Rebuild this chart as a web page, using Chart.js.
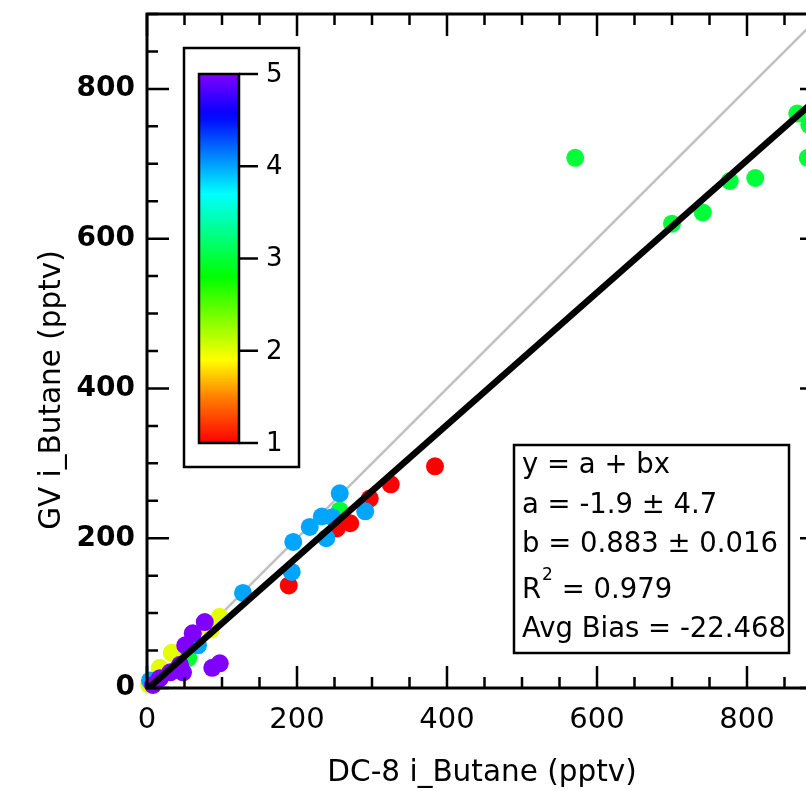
<!DOCTYPE html>
<html><head><meta charset="utf-8">
<script src="https://cdn.jsdelivr.net/npm/chart.js@4.4.0/dist/chart.umd.min.js"></script>
<style>
html,body{margin:0;padding:0;background:#fff;overflow:hidden;}
#wrap{width:806px;height:791px;overflow:hidden;position:relative;background:#fff;}
canvas{display:block;}
</style></head><body>
<div id="wrap"><canvas id="c" width="840" height="791"></canvas></div>
<script>
// ---------- data ----------
const xTitle = 'DC-8 i_Butane (pptv)';
const yTitle = 'GV i_Butane (pptv)';
const axisMin = 0;
const axisMax = 900;
const tickLabels = [0, 200, 400, 600, 800];
const minorStep = 50;

// DC-8 (x) values, GV (y) values, colour-scale value for each point
const dc8 = [189,253,271,297,325,384,
             571,700,741,777,811,867,883,881,257,55,
             97,85,33,17,3,
             128,193,195,217,233,247,257,239,291,68,4,
             77,61,51,44,48,31,17,8,87,97];
const gv  = [137,213,220,253,272,296,
             708,620,635,677,681,767,752,708,237,40,
             95,78,47,27,4,
             127,155,195,215,229,228,260,200,236,57,10,
             88,73,57,31,21,21,13,4,27,33];
const colorValue = [1,1,1,1,1,1,
             3,3,3,3,3,3,3,3,3,3,
             2,2,2,2,2,
             4,4,4,4,4,4,4,4,4,4,4,
             5,5,5,5,5,5,5,5,5,5];

const fitA = -1.9;
const fitB = 0.883;
const statsLines = ['y = a + bx', 'a = -1.9 \u00B1 4.7', 'b = 0.883 \u00B1 0.016', 'R2 = 0.979', 'Avg Bias = -22.468'];
const colorbarTicks = [1, 2, 3, 4, 5];

// ---------- colour scale ----------
const colorStops = [[1,[255,0,0]],[1.5,[255,128,0]],[1.9,[255,255,0]],[2.8,[0,255,0]],[3.7,[0,255,255]],[4.55,[0,0,255]],[5,[128,0,255]]];
function colorFor(v){
  if (v <= colorStops[0][0]) return 'rgb(' + colorStops[0][1].join(',') + ')';
  for (let i = 1; i < colorStops.length; i++){
    const [v1,c1] = colorStops[i];
    const [v0,c0] = colorStops[i-1];
    if (v <= v1){
      const t = (v - v0) / (v1 - v0);
      const c = c0.map((a,k)=>Math.round(a + (c1[k]-a)*t));
      return 'rgb(' + c.join(',') + ')';
    }
  }
  return 'rgb(' + colorStops[colorStops.length-1][1].join(',') + ')';
}

const points = dc8.map((x,i)=>({x:x, y:gv[i]}));
const xStart = Math.min(...dc8);
const fitLine = [{x:xStart, y:fitA + fitB*xStart}, {x:axisMax, y:fitA + fitB*axisMax}];
const oneToOne = [{x:axisMin, y:axisMin}, {x:axisMax, y:axisMax}];

const FONT = '"DejaVu Sans", sans-serif';

const decor = {
  id: 'decor',
  afterDraw(chart){
    const ctx = chart.ctx;
    const xs = chart.scales.x, ys = chart.scales.y;
    const L = xs.getPixelForValue(axisMin), R = xs.getPixelForValue(axisMax);
    const B = ys.getPixelForValue(axisMin), T = ys.getPixelForValue(axisMax);
    ctx.save();
    ctx.strokeStyle = '#000';
    ctx.lineWidth = 3;
    ctx.lineCap = 'butt';
    ctx.beginPath();
    ctx.rect(L, T, R-L, B-T);
    ctx.stroke();
    ctx.lineWidth = 2.5;
    for (let v = axisMin; v <= axisMax; v += minorStep){
      const major = v % 200 === 0;
      const len = major ? 22 : 11;
      const px = xs.getPixelForValue(v);
      const py = ys.getPixelForValue(v);
      ctx.beginPath();
      ctx.moveTo(px, B); ctx.lineTo(px, B-len);
      ctx.moveTo(px, T); ctx.lineTo(px, T+len);
      ctx.moveTo(L, py); ctx.lineTo(L+len, py);
      ctx.moveTo(R, py); ctx.lineTo(R-len, py);
      ctx.stroke();
    }
    // axis titles
    ctx.fillStyle = '#000';
    ctx.font = '29.5px ' + FONT;
    ctx.textAlign = 'center';
    ctx.textBaseline = 'middle';
    ctx.fillText(xTitle, 482, 773);
    ctx.save();
    ctx.translate(52, 390);
    ctx.rotate(-Math.PI/2);
    ctx.fillText(yTitle, 0, 0);
    ctx.restore();

    // colour bar legend
    ctx.lineWidth = 2.5;
    ctx.strokeStyle = '#000';
    ctx.fillStyle = '#fff';
    ctx.fillRect(184, 48, 115, 419);
    ctx.strokeRect(184, 48, 115, 419);
    const cbTop = 74, cbBot = 443, cbL = 199, cbR = 239;
    const vmin = colorbarTicks[0], vmax = colorbarTicks[colorbarTicks.length-1];
    const g = ctx.createLinearGradient(0, cbBot, 0, cbTop);
    for (let i = 0; i <= 40; i++){
      const v = vmin + (vmax - vmin) * i / 40;
      g.addColorStop(i/40, colorFor(v));
    }
    ctx.fillStyle = g;
    ctx.fillRect(cbL, cbTop, cbR-cbL, cbBot-cbTop);
    ctx.strokeRect(cbL, cbTop, cbR-cbL, cbBot-cbTop);
    ctx.fillStyle = '#000';
    ctx.font = '26px ' + FONT;
    ctx.textAlign = 'left';
    ctx.textBaseline = 'middle';
    colorbarTicks.forEach(v=>{
      const y = cbBot - (v - vmin) / (vmax - vmin) * (cbBot - cbTop);
      ctx.beginPath(); ctx.moveTo(cbR, y); ctx.lineTo(cbR+19, y); ctx.stroke();
      ctx.fillText(String(v), cbR+27, y+1);
    });

    // stats box
    ctx.fillStyle = '#fff';
    ctx.fillRect(514, 445, 275, 208);
    ctx.strokeRect(514, 445, 275, 208);
    ctx.fillStyle = '#000';
    ctx.textBaseline = 'alphabetic';
    const SF = '27.5px ' + FONT;
    ctx.font = SF;
    const baselines = [473, 513, 552, 598, 637];
    statsLines.forEach((s,i)=>{
      const x0 = 522;
      if (s.startsWith('R2')){
        ctx.font = SF;
        ctx.fillText('R', x0, baselines[i]);
        const w = ctx.measureText('R').width;
        ctx.font = '17px ' + FONT;
        ctx.fillText('2', x0 + w + 1, baselines[i] - 18);
        const w2 = ctx.measureText('2').width;
        ctx.font = SF;
        ctx.fillText(s.slice(2), x0 + w + w2 + 1, baselines[i]);
      } else {
        ctx.fillText(s, x0, baselines[i]);
      }
    });
    ctx.restore();
  }
};

new Chart(document.getElementById('c'), {
  type: 'scatter',
  data: {
    datasets: [
      { type:'line', label:'fit', data: fitLine, borderColor:'#000', borderWidth:6.5, pointRadius:0, fill:false, tension:0 },
      { type:'scatter', label:'points', data: points, backgroundColor: colorValue.map(colorFor), borderWidth:0, pointRadius:9, pointHoverRadius:9, clip:false },
      { type:'line', label:'1:1', data: oneToOne, borderColor:'#c0c0c0', borderWidth:2.5, pointRadius:0, fill:false, tension:0 }
    ]
  },
  options: {
    responsive:false,
    animation:false,
    devicePixelRatio:1,
    layout:{ padding:{ top:14, right:18, left:0, bottom:0 } },
    plugins:{ legend:{display:false}, tooltip:{enabled:false} },
    scales:{
      x:{
        type:'linear', min:axisMin, max:axisMax,
        grid:{display:false, drawTicks:false}, border:{display:false},
        ticks:{ stepSize:minorStep, autoSkip:false, maxRotation:0, padding:15, color:'#000',
          font:{family:'"DejaVu Sans", sans-serif', size:29},
          callback:(v)=> tickLabels.includes(v) ? String(v) : '' },
        afterFit:(s)=>{ s.height = 103; s.paddingLeft = 0; s.paddingRight = 0; }
      },
      y:{
        type:'linear', min:axisMin, max:axisMax,
        grid:{display:false, drawTicks:false}, border:{display:false},
        ticks:{ stepSize:minorStep, autoSkip:false, padding:12, color:'#000',
          font:{family:'"DejaVu Sans", sans-serif', size:28, weight:'bold'},
          callback:(v)=> tickLabels.includes(v) ? String(v) : '' },
        afterFit:(s)=>{ s.width = 147; s.paddingTop = 0; s.paddingBottom = 0; }
      }
    }
  },
  plugins:[decor]
});
</script>
</body></html>
